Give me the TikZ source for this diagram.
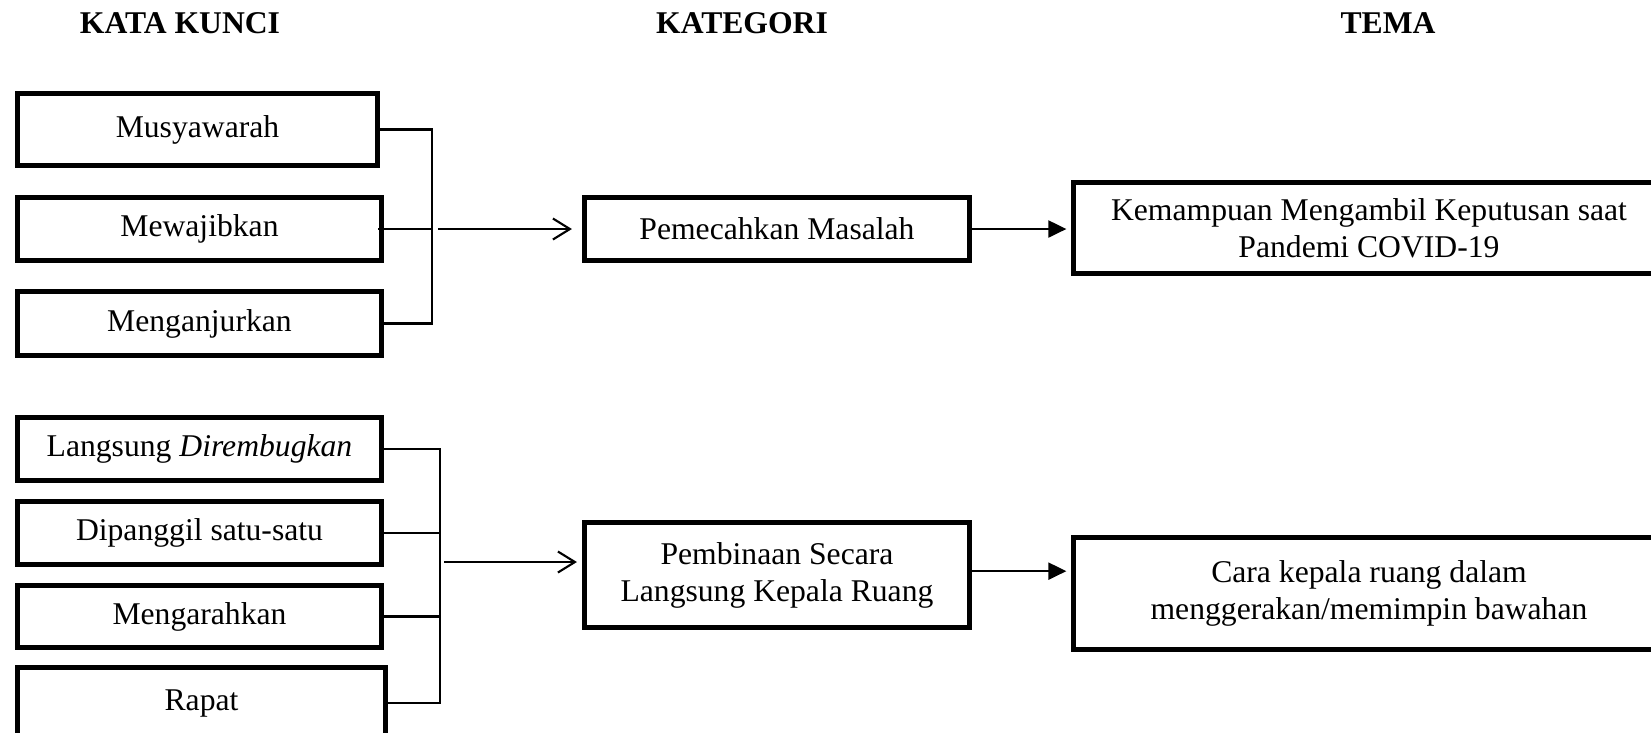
\documentclass[tikz,border=0pt]{standalone}
\usepackage{fontspec}
\setmainfont{Liberation Serif}
\usetikzlibrary{arrows.meta}

\begin{document}
\begin{tikzpicture}[x=0.01cm,y=-0.01cm,
    font=\fontsize{9}{10.5}\selectfont,
    kbox/.style={draw,line width=1.4pt,inner sep=0pt,align=center},
    link/.style={line width=0.6pt},
    opentip/.style={line width=0.6pt,-{Straight Barb[length=0.17cm,width=0.21cm]}},
    filltip/.style={line width=0.6pt,-{Triangle[length=0.18cm,width=0.17cm]}}]
    \useasboundingbox (0,0) rectangle (1651,732);
    \clip (0,0) rectangle (1651,732);
    % judul kolom
    \node[font=\fontsize{9}{10.5}\selectfont\bfseries] (h1) at (180,23) {KATA KUNCI};
    \node[font=\fontsize{9}{10.5}\selectfont\bfseries] (h2) at (742,23) {KATEGORI};
    \node[font=\fontsize{9}{10.5}\selectfont\bfseries] (h3) at (1388,23) {TEMA};
    % kelompok 1
    \node[kbox,minimum width=3.60cm,minimum height=0.72cm] (mus) at (197.5,129.5) {Musyawarah};
    \node[kbox,minimum width=3.64cm,minimum height=0.63cm] (waj) at (199.5,229) {Mewajibkan};
    \node[kbox,minimum width=3.64cm,minimum height=0.64cm] (anj) at (199.5,323.5) {Menganjurkan};
    \node[kbox,minimum width=3.85cm,minimum height=0.63cm] (pem) at (777,229) {Pemecahkan Masalah};
    \node[kbox,minimum width=5.9cm,minimum height=0.91cm] (kem) at (1369,228) {Kemampuan Mengambil Keputusan saat\\Pandemi COVID-19};
    \coordinate (j1) at (432,229);
    \draw[link] (mus.east) -| (j1) |- (anj.east);
    \draw[link] ([xshift=-0.06cm]waj.east) -- (j1);
    \draw[opentip,shorten <=0.06cm,shorten >=0.1cm] (j1) -- (pem.west);
    \draw[filltip,shorten >=0.05cm] (pem.east) -- (pem.east -| kem.west);
    % kelompok 2
    \node[kbox,minimum width=3.64cm,minimum height=0.63cm] (lng) at (199.5,449) {Langsung \textit{Dirembugkan}};
    \node[kbox,minimum width=3.64cm,minimum height=0.63cm] (pgl) at (199.5,533) {Dipanggil satu-satu};
    \node[kbox,minimum width=3.64cm,minimum height=0.62cm] (arh) at (199.5,616.5) {Mengarahkan};
    \node[kbox,minimum width=3.68cm,minimum height=0.71cm] (rpt) at (201.5,703) {Rapat};
    \node[kbox,minimum width=3.85cm,minimum height=1.05cm] (pin) at (777,575) {Pembinaan Secara\\Langsung Kepala Ruang};
    \node[kbox,minimum width=5.9cm,minimum height=1.12cm] (cara) at (1369,593.5) {Cara kepala ruang dalam\\menggerakan/memimpin bawahan};
    \coordinate (j2) at (440,562);
    \draw[link] (lng.east) -| (j2) |- (rpt.east);
    \draw[link] (pgl.east) -- (pgl.east -| j2);
    \draw[link] (arh.east) -- (arh.east -| j2);
    \draw[opentip,shorten <=0.04cm,shorten >=0.05cm] (j2) -- (j2 -| pin.west);
    \draw[filltip,shorten >=0.05cm] ([yshift=1.1pt]pin.east) -- ([yshift=1.1pt]pin.east -| cara.west);
\end{tikzpicture}
\end{document}
